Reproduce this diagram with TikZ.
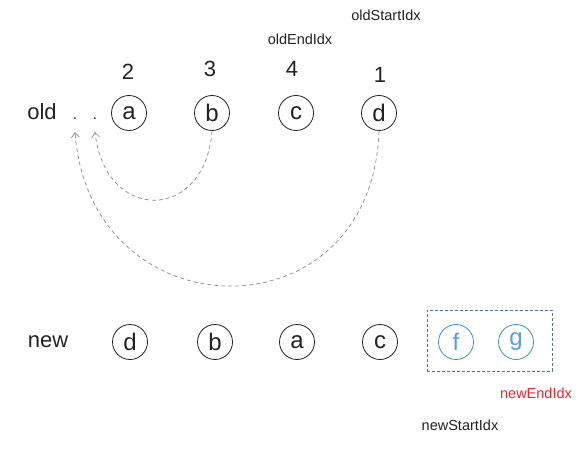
\documentclass[tikz,border=0pt]{standalone}
\usepackage{fontspec}
\setmainfont{Liberation Sans}
\usetikzlibrary{arrows.meta}
\definecolor{ink}{HTML}{222222}
\definecolor{blueline}{HTML}{3D8FD1}
\definecolor{bluetext}{HTML}{5A9FD8}
\definecolor{boxline}{HTML}{4D7590}
\definecolor{redtext}{HTML}{E8262D}
\definecolor{curve}{HTML}{8A8A8A}
\tikzset{
  elem/.style={circle, draw=ink, line width=0.8pt, minimum size=35pt, inner sep=0pt,
    text=ink, font=\fontsize{24}{26}\selectfont},
  newelem/.style={elem, draw=blueline, text=bluetext},
  big/.style={anchor=base, text=ink, font=\fontsize{22}{24}\selectfont, inner sep=0pt},
  dotmark/.style={anchor=base, text=ink, font=\fontsize{15}{16}\selectfont, inner sep=0pt},
  idx/.style={anchor=base, text=ink, font=\fontsize{14.5}{16}\selectfont, inner sep=0pt},
  move/.style={draw=curve, line width=0.7pt, dash pattern=on 4pt off 3pt,
    -{Straight Barb[length=5pt,width=8pt]}},
}
\begin{document}
\begin{tikzpicture}[x=1pt,y=-1pt]
\useasboundingbox (0,0) rectangle (585,473);
% old row
\node[big] (oldlbl) at (42,120) {old};
\node[dotmark] (dot1) at (75,120) {.};
\node[dotmark] (dot2) at (95,120) {.};
\node[elem] (oa) at (129,113) {a};
\node[elem] (ob) at (212,113) {b};
\node[elem] (oc) at (296,113) {c};
\node[elem] (od) at (379,113) {d};
\node[big] (n2) at (128,80) {2};
\node[big] (n3) at (210,77) {3};
\node[big] (n4) at (292,77) {4};
\node[big] (n1) at (380,83) {1};
\node[idx] (oldend) at (300,45) {oldEndIdx};
\node[idx] (oldstart) at (386,21) {oldStartIdx};
% targets below the dots
\coordinate (t1) at (75,132);
\coordinate (t2) at (95,132);
\draw[move] (ob.south) .. controls (205,223) and (105,223) .. (t2);
\draw[move] (od.south) .. controls (372,340) and (90,335) .. (t1);
% new row
\node[big] (newlbl) at (48,347) {new};
\node[elem] (nd) at (130,342) {d};
\node[elem] (nb) at (215,342) {b};
\node[elem] (na) at (297,342) {a};
\node[elem] (nc) at (380,342) {c};
\node[newelem] (nf) at (456,342) {f};
\node[newelem] (ng) at (516,342) {g};
\node[draw=boxline, line width=0.7pt, dash pattern=on 3pt off 2pt, inner sep=0pt,
  minimum width=125pt, minimum height=61pt] (box) at (489.5,340.5) {};
\node[idx, text=redtext] (newend) at (536,398) {newEndIdx};
\node[idx] (newstart) at (460,430) {newStartIdx};
\end{tikzpicture}
\end{document}
